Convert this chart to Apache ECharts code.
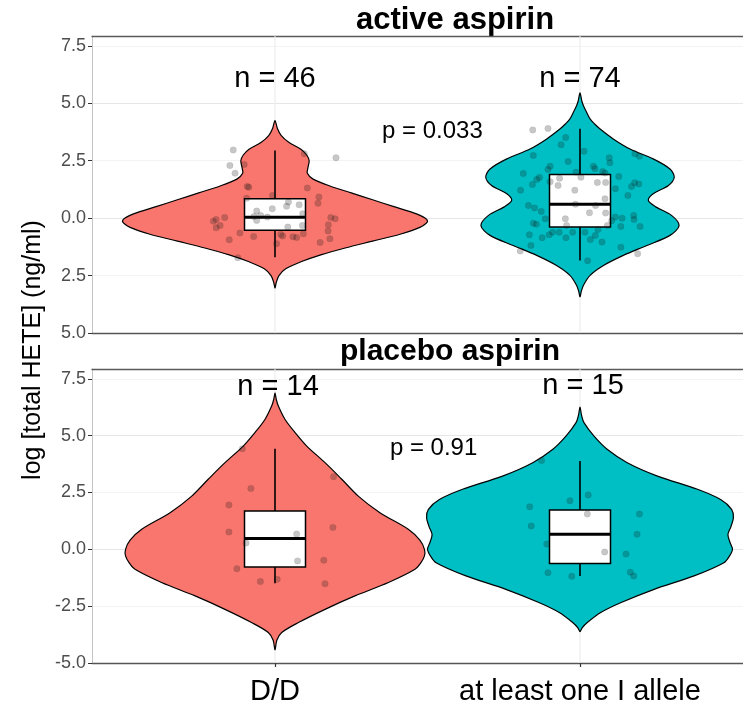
<!DOCTYPE html>
<html>
<head>
<meta charset="utf-8">
<script src="https://cdn.jsdelivr.net/npm/echarts@6/dist/echarts.min.js"></script>
<style>
html,body{margin:0;padding:0;background:#fff;}
#chart{width:743px;height:713px;}
</style>
</head>
<body>
<div id="chart"></div>
<script>
// ---------------- data ----------------
const categories = ['D/D', 'at least one I allele'];
const panelTitles = ['active aspirin', 'placebo aspirin'];
const nLabelsActive = ['n = 46', 'n = 74'];
const nLabelsPlacebo = ['n = 14', 'n = 15'];
const pLabels = ['p = 0.033', 'p = 0.91'];
const yTicks = [-5, -2.5, 0, 2.5, 5, 7.5];
const yTitle = 'log [total HETE] (ng/ml)';

// violin outlines: [value, half-width (category units)], top to bottom
const violinActiveDD = [[4.25,0],[3.9,0.008],[3.6,0.02],[3.3,0.045],[3.0,0.085],[2.75,0.104],[2.5,0.112],[2.2,0.108],[1.95,0.106],[1.7,0.125],[1.4,0.18],[1.1,0.25],[0.8,0.32],[0.5,0.39],[0.25,0.45],[0.0,0.493],[-0.15,0.5],[-0.4,0.475],[-0.7,0.41],[-1.0,0.32],[-1.3,0.23],[-1.6,0.15],[-1.9,0.085],[-2.2,0.035],[-2.5,0.013],[-2.8,0.004],[-3.05,0]];
const violinActiveI = [[5.45,0],[5.1,0.006],[4.9,0.011],[4.6,0.022],[4.32,0.033],[4.1,0.048],[3.88,0.066],[3.45,0.109],[3.01,0.164],[2.58,0.24],[2.14,0.295],[1.78,0.309],[1.42,0.29],[1.06,0.24],[0.77,0.224],[0.48,0.25],[0.12,0.3],[-0.32,0.325],[-0.75,0.295],[-1.19,0.219],[-1.62,0.142],[-2.06,0.077],[-2.49,0.033],[-2.93,0.011],[-3.2,0.004],[-3.43,0]];
const violinPlaceboDD = [[6.88,0],[6.6,0.004],[6.3,0.011],[5.71,0.033],[5.13,0.066],[4.54,0.104],[3.81,0.164],[3.08,0.219],[2.34,0.273],[1.61,0.344],[0.88,0.437],[0.4,0.475],[0.0,0.49],[-0.29,0.49],[-0.6,0.478],[-0.88,0.459],[-1.46,0.372],[-2.05,0.262],[-2.64,0.164],[-3.22,0.077],[-3.66,0.022],[-4.0,0.006],[-4.42,0]];
const violinPlaceboI = [[6.25,0],[5.9,0.005],[5.57,0.013],[4.98,0.046],[4.39,0.09],[3.81,0.155],[3.22,0.254],[2.64,0.385],[2.19,0.461],[1.76,0.497],[1.4,0.503],[1.0,0.495],[0.65,0.485],[0.3,0.492],[0.0,0.5],[-0.3,0.49],[-0.59,0.472],[-1.17,0.374],[-1.76,0.243],[-2.35,0.133],[-2.78,0.068],[-3.22,0.024],[-3.45,0.007],[-3.62,0]];

// box statistics: [lower whisker, Q1, median, Q3, upper whisker]
const boxActiveDD = [-1.70, -0.53, 0.04, 0.84, 2.94];
const boxActiveI = [-1.84, -0.39, 0.60, 1.90, 3.89];
const boxPlaceboDD = [-1.49, -0.78, 0.47, 1.68, 4.42];
const boxPlaceboI = [-1.17, -0.62, 0.66, 1.73, 3.88];

// jittered observations: [horizontal jitter (category units), value]
const ptsActiveDD = [[-0.137,2.97],[-0.148,2.29],[-0.131,1.96],[-0.101,2.34],[0.096,2.80],[0.2,2.63],[-0.091,1.38],[-0.086,1.35],[0.106,1.31],[-0.008,0.99],[0.144,0.92],[0.141,0.65],[-0.093,0.87],[-0.06,0.31],[-0.009,0.41],[0.044,0.70],[0.038,0.52],[0.079,0.58],[-0.047,0.12],[-0.069,0.07],[-0.193,-0.06],[-0.202,-0.13],[-0.165,0.03],[-0.18,-0.32],[-0.193,-0.42],[0.183,0.03],[0.197,-0.03],[0.175,-0.29],[-0.115,-0.65],[-0.07,-0.80],[-0.15,-0.94],[0.019,-0.71],[0.025,-0.78],[0.059,-0.81],[0.071,-0.84],[0.093,-0.68],[0.09,-0.32],[0.042,-0.39],[0.174,-0.56],[0.18,-0.90],[0.148,-1.06],[0.005,-1.11],[-0.122,-1.72],[0.091,0.19],[-0.025,0.045],[-0.06,-0.10]];
const ptsActiveI = [[-0.155,3.84],[-0.105,3.90],[-0.047,3.51],[-0.062,3.20],[-0.153,2.73],[-0.039,2.47],[0.013,2.91],[0.096,2.63],[0.18,2.80],[0.195,2.70],[-0.098,2.26],[-0.105,2.12],[-0.186,1.94],[-0.133,1.77],[-0.142,1.68],[-0.156,1.47],[-0.195,1.22],[-0.067,1.74],[-0.098,1.58],[-0.013,2.0],[0.044,2.26],[0.049,2.15],[0.074,2.03],[0.082,1.97],[0.127,1.81],[0.116,1.28],[0.057,1.55],[0.084,1.55],[0.179,1.54],[0.169,1.38],[0.193,1.49],[-0.017,1.22],[0.082,0.84],[-0.169,0.55],[-0.149,0.44],[-0.127,0.29],[-0.015,0.61],[0.051,0.55],[0.031,0.23],[0.084,0.22],[-0.048,-0.03],[0.116,0.05],[0.138,0.0],[0.176,0.12],[0.177,-0.06],[-0.153,-0.22],[-0.143,-0.27],[0.104,-0.11],[0.09,-0.32],[0.134,-0.36],[0.197,-0.36],[-0.09,-0.61],[-0.101,-0.72],[-0.068,-0.61],[-0.024,-0.61],[-0.166,-0.72],[-0.124,-0.85],[-0.046,-0.85],[0.016,-0.61],[0.059,-0.49],[0.05,-0.75],[0.034,-0.93],[0.072,-1.04],[-0.161,-1.19],[-0.196,-1.43],[0.134,-1.27],[0.189,-1.55],[0.025,-1.85],[0.098,2.41],[0.003,1.78],[-0.072,1.42],[0.157,0.99],[-0.044,-0.32],[-0.114,-0.03]];
const ptsPlaceboDD = [[-0.107,4.42],[0.192,3.19],[-0.079,2.67],[-0.151,1.95],[-0.151,0.76],[0.19,0.96],[0.071,0.67],[-0.095,0.28],[0.074,-0.51],[0.16,-0.48],[-0.125,-0.85],[-0.048,-1.42],[0.007,-1.32],[0.164,-1.51]];
const ptsPlaceboI = [[-0.126,3.91],[0.027,2.39],[-0.033,2.14],[-0.165,1.87],[0.024,1.55],[0.195,1.55],[-0.16,1.03],[0.187,0.66],[-0.109,0.23],[0.081,-0.12],[0.151,-0.21],[-0.105,-1.03],[-0.027,-1.19],[0.165,-1.01],[0.176,-1.17]];

// ---------------- styling ----------------
const FONT = "'Liberation Sans', Arial, Helvetica, sans-serif";
const FILLS = ['#F8766D', '#00BFC4'];
const Y_MIN = -5, Y_MAX = 7.93;
const X_MIN = 0.4, X_MAX = 2.6;
const BOX_HALF = 0.1;

const chart = echarts.init(document.getElementById('chart'), null, {renderer: 'canvas'});

function violinSeries(gi, cat, profile) {
  return {
    type: 'custom', xAxisIndex: gi * 2, yAxisIndex: gi, z: 2, silent: true,
    data: [[cat]],
    renderItem: function (params, api) {
      const c = api.value(0);
      const left = profile.map(function (d) { return api.coord([c - d[1], d[0]]); });
      const right = profile.slice(1, -1).reverse().map(function (d) { return api.coord([c + d[1], d[0]]); });
      return {
        type: 'polygon',
        shape: {points: left.concat(right), smooth: 0.3},
        style: {fill: FILLS[cat - 1], stroke: '#000', lineWidth: 1.2}
      };
    }
  };
}

function boxSeries(gi, cat, s) {
  return {
    type: 'custom', xAxisIndex: gi * 2, yAxisIndex: gi, z: 3, silent: true,
    data: [[cat]],
    renderItem: function (params, api) {
      const c = api.value(0);
      const lo = api.coord([c, s[0]]), hi = api.coord([c, s[4]]);
      const tl = api.coord([c - BOX_HALF, s[3]]), br = api.coord([c + BOX_HALF, s[1]]);
      const ml = api.coord([c - BOX_HALF, s[2]]), mr = api.coord([c + BOX_HALF, s[2]]);
      return {
        type: 'group',
        children: [
          {type: 'line', shape: {x1: lo[0], y1: lo[1], x2: hi[0], y2: hi[1]}, style: {stroke: '#000', lineWidth: 1.6}},
          {type: 'rect', shape: {x: tl[0], y: tl[1], width: br[0] - tl[0], height: br[1] - tl[1]}, style: {fill: '#fff', stroke: '#000', lineWidth: 1.5}},
          {type: 'line', shape: {x1: ml[0], y1: ml[1], x2: mr[0], y2: mr[1]}, style: {stroke: '#000', lineWidth: 3}}
        ]
      };
    }
  };
}

function pointSeries(gi, cat, pts) {
  return {
    type: 'scatter', xAxisIndex: gi * 2, yAxisIndex: gi, z: 4, silent: true,
    symbol: 'circle', symbolSize: 6.5,
    itemStyle: {color: 'rgba(20,20,20,0.24)', borderColor: 'rgba(20,20,20,0.1)', borderWidth: 0.6, opacity: 1},
    data: pts.map(function (p) { return [cat + p[0], p[1]]; })
  };
}

function vGridSeries(gi) {
  return {
    type: 'custom', xAxisIndex: gi * 2, yAxisIndex: gi, z: 1, silent: true,
    data: [[1], [2]],
    renderItem: function (params, api) {
      const a = api.coord([api.value(0), Y_MIN]), b = api.coord([api.value(0), Y_MAX]);
      return {type: 'line', shape: {x1: a[0], y1: a[1], x2: b[0], y2: b[1]}, style: {stroke: '#ebebeb', lineWidth: 1.1}};
    }
  };
}

function textSeries(gi, items, size) {
  return {
    type: 'scatter', xAxisIndex: gi * 2, yAxisIndex: gi, z: 6, silent: true,
    symbolSize: 0,
    itemStyle: {opacity: 1},
    data: items,
    label: {
      show: true, position: 'inside',
      formatter: function (p) { return p.value[2]; },
      color: '#000', fontSize: size, fontFamily: FONT, opacity: 1
    }
  };
}

function xAxes(gi, withLabels) {
  return [
    {
      type: 'value', gridIndex: gi, min: X_MIN, max: X_MAX, position: 'bottom',
      axisLine: {show: true, onZero: false, lineStyle: {color: '#555', width: 1.3}},
      axisTick: {show: withLabels, length: 4, lineStyle: {color: '#333', width: 1.2}, customValues: [1, 2]},
      axisLabel: withLabels ? {
        show: true, customValues: [1, 2],
        formatter: function (v) { return categories[Math.round(v) - 1] || ''; },
        color: '#000', fontSize: 29, fontFamily: FONT, margin: 14
      } : {show: false},
      splitLine: {show: false}
    },
    {
      type: 'value', gridIndex: gi, min: X_MIN, max: X_MAX, position: 'top',
      axisLine: {show: true, onZero: false, lineStyle: {color: '#5a5a5a', width: 1.3}},
      axisTick: {show: false}, axisLabel: {show: false}, splitLine: {show: false}
    }
  ];
}

function yAxis(gi, absNeg) {
  return {
    type: 'value', gridIndex: gi, min: Y_MIN, max: Y_MAX, interval: 1.25,
    axisLine: {show: true, onZero: false, lineStyle: {color: '#c4c4c4', width: 1}},
    axisTick: {show: true, length: 4, lineStyle: {color: '#333', width: 1}, customValues: yTicks},
    axisLabel: {
      show: true, customValues: yTicks,
      formatter: function (v) {
        if (Math.abs(v / 2.5 - Math.round(v / 2.5)) > 1e-6) return '';
        return (absNeg ? Math.abs(v) : v).toFixed(1);
      },
      color: '#4d4d4d', fontSize: 18, fontFamily: FONT, margin: 6
    },
    splitLine: {show: true, lineStyle: {color: ['#e6e6e6', '#f3f3f3'], width: 1}}
  };
}

const option = {
  backgroundColor: '#fff',
  animation: false,
  grid: [
    {left: 92, width: 671, top: 36, height: 297, outerBoundsMode: 'none', containLabel: false},
    {left: 92, width: 671, top: 369, height: 294, outerBoundsMode: 'none', containLabel: false}
  ],
  xAxis: xAxes(0, false).concat(xAxes(1, true)),
  yAxis: [yAxis(0, true), yAxis(1, false)],
  graphic: [
    {type: 'text', x: 455, y: 20, style: {text: panelTitles[0], font: 'bold 31px ' + FONT, fill: '#000', textAlign: 'center', textVerticalAlign: 'middle'}},
    {type: 'text', x: 450, y: 352, style: {text: panelTitles[1], font: 'bold 30px ' + FONT, fill: '#000', textAlign: 'center', textVerticalAlign: 'middle'}},
    {type: 'text', x: 33, y: 350, rotation: Math.PI / 2, style: {text: yTitle, font: '25px ' + FONT, fill: '#000', textAlign: 'center', textVerticalAlign: 'middle'}}
  ],
  series: [
    vGridSeries(0), vGridSeries(1),
    violinSeries(0, 1, violinActiveDD), violinSeries(0, 2, violinActiveI),
    violinSeries(1, 1, violinPlaceboDD), violinSeries(1, 2, violinPlaceboI),
    boxSeries(0, 1, boxActiveDD), boxSeries(0, 2, boxActiveI),
    boxSeries(1, 1, boxPlaceboDD), boxSeries(1, 2, boxPlaceboI),
    pointSeries(0, 1, ptsActiveDD), pointSeries(0, 2, ptsActiveI),
    pointSeries(1, 1, ptsPlaceboDD), pointSeries(1, 2, ptsPlaceboI),
    textSeries(0, [[1, 6.07, nLabelsActive[0]], [2, 6.07, nLabelsActive[1]]], 29),
    textSeries(1, [[1.01, 7.15, nLabelsPlacebo[0]], [2.01, 7.2, nLabelsPlacebo[1]]], 29),
    textSeries(0, [[1.516, 3.77, pLabels[0]]], 24),
    textSeries(1, [[1.52, 4.44, pLabels[1]]], 24)
  ]
};
chart.setOption(option);
</script>
</body>
</html>
